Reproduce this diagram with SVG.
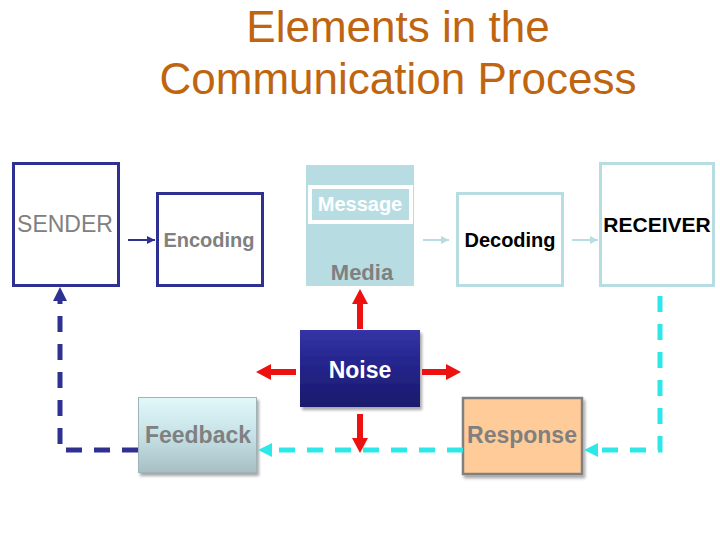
<svg xmlns="http://www.w3.org/2000/svg" width="720" height="540" viewBox="0 0 720 540">
  <defs>
    <linearGradient id="gNoise" x1="0" y1="0" x2="0" y2="1">
      <stop offset="0" stop-color="#3434A6"/>
      <stop offset="0.5" stop-color="#23238A"/>
      <stop offset="1" stop-color="#1A1A6C"/>
    </linearGradient>
    <linearGradient id="gFeed" x1="0" y1="0" x2="0" y2="1">
      <stop offset="0" stop-color="#E2F7FA"/>
      <stop offset="0.5" stop-color="#C6E2E6"/>
      <stop offset="1" stop-color="#A6BFC3"/>
    </linearGradient>
    <filter id="shadow" x="-10%" y="-10%" width="130%" height="130%">
      <feDropShadow dx="2" dy="3" stdDeviation="1.5" flood-color="#000" flood-opacity="0.35"/>
    </filter>
    <marker id="mNavy" viewBox="0 0 10 10" refX="10" refY="5" markerWidth="4" markerHeight="4" orient="auto" markerUnits="strokeWidth">
      <path d="M0,0 L10,5 L0,10 z" fill="#2E3192"/>
    </marker>
    <marker id="mLight" viewBox="0 0 10 10" refX="10" refY="5" markerWidth="4" markerHeight="4" orient="auto" markerUnits="strokeWidth">
      <path d="M0,0 L10,5 L0,10 z" fill="#B7DDE3"/>
    </marker>
  </defs>
  <style>
    .title{font-family:"Liberation Sans",Arial,sans-serif;font-size:44px;fill:#C0650F;text-anchor:middle}
    .lbl{font-family:"Liberation Sans",Arial,sans-serif;text-anchor:middle}
    .navybox{fill:#FFFFFF;stroke:#2E3192;stroke-width:3}
    .lightbox{fill:#FFFFFF;stroke:#B7DDE3;stroke-width:3}
    .red{fill:#EE1111}
    .dnavy{fill:none;stroke:#2E3192;stroke-width:5;stroke-dasharray:16 12}
    .dcyan{fill:none;stroke:#2EE8E8;stroke-width:5;stroke-dasharray:16 12}
  </style>
  <rect width="720" height="540" fill="#FFFFFF"/>
  <g id="title">
    <text class="title" x="398" y="42">Elements in the</text>
    <text class="title" x="398" y="94">Communication Process</text>
  </g>
  <g id="sender">
    <rect class="navybox" x="13.5" y="163.5" width="105" height="122"/>
    <text class="lbl" x="65" y="232" font-size="23" fill="#808080">SENDER</text>
  </g>
  <g id="encoding">
    <rect class="navybox" x="157.5" y="193.5" width="105" height="92"/>
    <text class="lbl" x="209" y="247" font-size="20" font-weight="bold" fill="#808080">Encoding</text>
  </g>
  <g id="media">
    <rect x="306" y="165" width="108" height="121" fill="#B7DDE3"/>
    <rect x="310" y="187" width="101" height="35" fill="#B7DDE3" stroke="#FFFFFF" stroke-width="4"/>
    <text class="lbl" x="360" y="211" font-size="20" font-weight="bold" fill="#FFFFFF">Message</text>
    <text class="lbl" x="362" y="280" font-size="22" font-weight="bold" fill="#808080">Media</text>
  </g>
  <g id="decoding">
    <rect class="lightbox" x="457.5" y="193.5" width="105" height="92"/>
    <text class="lbl" x="510" y="247" font-size="20" font-weight="bold" fill="#000000">Decoding</text>
  </g>
  <g id="receiver">
    <rect class="lightbox" x="600.5" y="163.5" width="113" height="122"/>
    <text class="lbl" x="657" y="232" font-size="21" font-weight="bold" fill="#000000">RECEIVER</text>
  </g>
  <g id="noise">
    <rect x="300" y="330" width="120" height="77" fill="url(#gNoise)" filter="url(#shadow)"/>
    <text class="lbl" x="360" y="378" font-size="23" font-weight="bold" fill="#FFFFFF">Noise</text>
  </g>
  <g id="feedback">
    <rect x="138.5" y="397.5" width="118" height="75" fill="url(#gFeed)" stroke="#A0B4B8" stroke-width="1" filter="url(#shadow)"/>
    <text class="lbl" x="198" y="443" font-size="23" font-weight="bold" fill="#808080">Feedback</text>
  </g>
  <g id="response">
    <rect x="463" y="398" width="119" height="76" fill="#FFCC99" stroke="#808080" stroke-width="2.5" filter="url(#shadow)"/>
    <text class="lbl" x="522" y="443" font-size="23" font-weight="bold" fill="#808080">Response</text>
  </g>
  <g id="connectors">
    <line x1="128" y1="240" x2="155" y2="240" stroke="#2E3192" stroke-width="2" marker-end="url(#mNavy)"/>
    <line x1="423" y1="240" x2="449" y2="240" stroke="#B7DDE3" stroke-width="2" marker-end="url(#mLight)"/>
    <line x1="572" y1="240" x2="598" y2="240" stroke="#B7DDE3" stroke-width="2" marker-end="url(#mLight)"/>
    <path class="red" d="M357,329 L357,304 L352,304 L360,289 L368,304 L363,304 L363,329 Z"/>
    <path class="red" d="M296,369 L271,369 L271,364 L256,372 L271,380 L271,375 L296,375 Z"/>
    <path class="red" d="M422,369 L446,369 L446,364 L461,372 L446,380 L446,375 L422,375 Z"/>
    <path class="red" d="M357,414 L357,438 L352,438 L360,453 L368,438 L363,438 L363,414 Z"/>
    <path class="dnavy" d="M138,450 L60,450 L60,300"/>
    <path d="M53,301 L60,287 L67,301 Z" fill="#2E3192"/>
    <path class="dcyan" d="M660,296 L660,450 L598,450"/>
    <path d="M598,443 L584,450 L598,457 Z" fill="#2EE8E8"/>
    <path class="dcyan" d="M463,450 L271,450"/>
    <path d="M272,443 L258,450 L272,457 Z" fill="#2EE8E8"/>
  </g>
</svg>
